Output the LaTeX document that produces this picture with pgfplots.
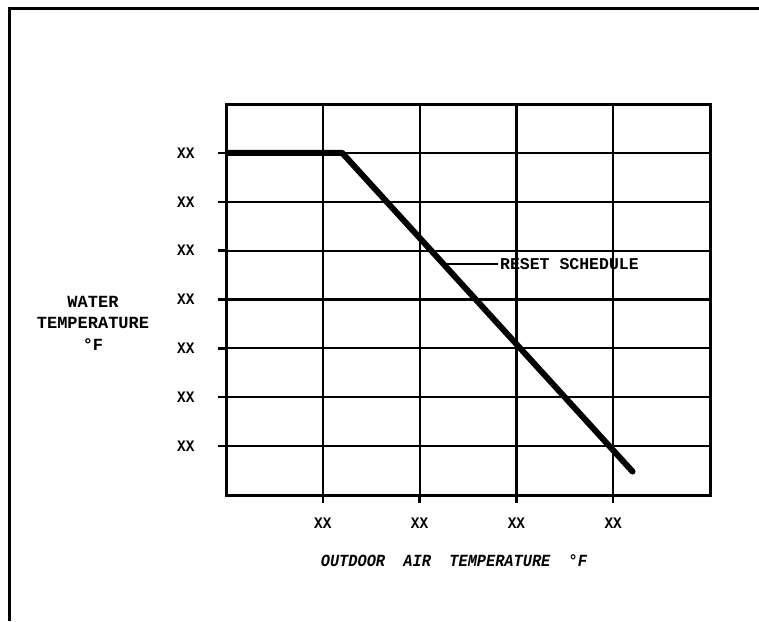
\documentclass[border=0pt]{standalone}
\usepackage{pgfplots}
\pgfplotsset{compat=1.18}
\usepackage{fontspec}
\setmainfont{Liberation Mono}
\newfontfamily\tw[FakeStretch=0.9]{Liberation Mono}
\begin{document}
\begin{tikzpicture}
\useasboundingbox (-226pt,-126pt) rectangle (533pt,495pt);
\draw[line width=3pt] (-216pt,-126pt) -- (-216pt,486pt);
\draw[line width=3pt] (-217.5pt,486pt) -- (533pt,486pt);
\begin{axis}[
  at={(0pt,0pt)}, anchor=south west,
  scale only axis, width=484pt, height=391pt,
  xmin=0, xmax=5, ymin=0, ymax=8,
  xtick={1,2,3,4}, ytick={1,2,3,4,5,6,7},
  xticklabels={XX,XX,XX,XX},
  yticklabels={XX,XX,XX,XX,XX,XX,XX},
  grid=major,
  major grid style={black, line width=2.2pt},
  axis line style={line width=3pt},
  tick align=outside, tick pos=left,
  major tick length=8pt,
  every tick/.style={black, line width=2.4pt},
  tick label style={font=\tw\bfseries\fontsize{16}{16}\selectfont},
  xticklabel style={yshift=-11pt},
  yticklabel style={xshift=-20pt},
]
\addplot[black, line width=6pt, line cap=round, line join=round] coordinates {(0,7) (1.2,7) (4.2,0.48)};
\draw[black, line width=2.2pt] (axis cs:2.24,4.72) -- (axis cs:2.81,4.72)
  node[right, inner sep=1pt, font=\bfseries\fontsize{16.5}{16.5}\selectfont] {RESET\ SCHEDULE};
\end{axis}
\node[font=\tw\bfseries\itshape\fontsize{17}{17}\selectfont] at (228pt,-66pt) {OUTDOOR\ \ AIR\ \ TEMPERATURE\ \ °F};
\node[font=\bfseries\fontsize{17}{21.5}\selectfont, align=center] at (-133pt,172pt) {WATER\\TEMPERATURE\\°F};
\end{tikzpicture}
\end{document}
